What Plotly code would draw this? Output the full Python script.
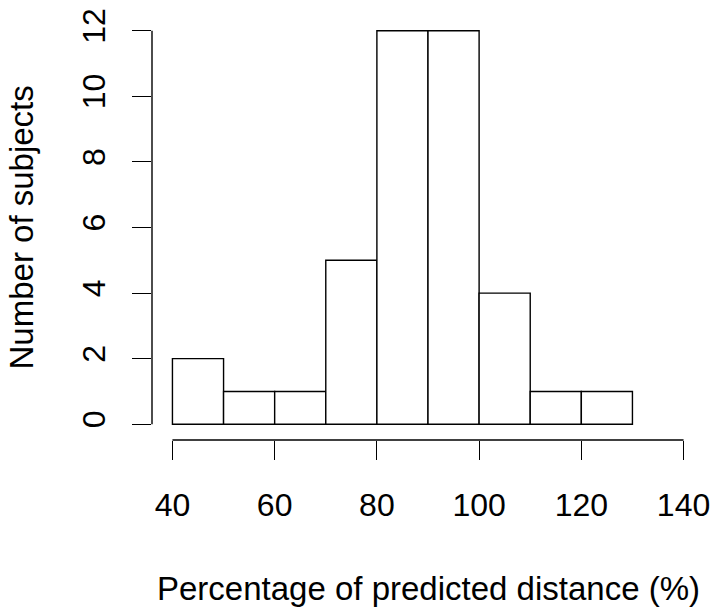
import plotly.graph_objects as go

# histogram bins (breaks) and counts
breaks = [40, 50, 60, 70, 80, 90, 100, 110, 120, 130]
counts = [2, 1, 1, 5, 12, 12, 4, 1, 1]
x_ticks = [40, 60, 80, 100, 120, 140]
y_ticks = [0, 2, 4, 6, 8, 10, 12]

mids = [(a + b) / 2 for a, b in zip(breaks[:-1], breaks[1:])]
widths = [b - a for a, b in zip(breaks[:-1], breaks[1:])]

font = "Liberation Sans, Arial, sans-serif"
lw = 1.4

fig = go.Figure(
    go.Bar(
        x=mids,
        y=counts,
        width=widths,
        marker=dict(color="white", line=dict(color="black", width=lw)),
    )
)

fig.update_layout(
    width=719,
    height=608,
    margin=dict(l=152, r=15, t=8, b=168),
    plot_bgcolor="white",
    paper_bgcolor="white",
    showlegend=False,
    font=dict(family=font, size=32, color="black"),
)

fig.update_xaxes(
    range=[36, 144],
    tickvals=x_ticks,
    ticks="outside",
    ticklen=19,
    tickwidth=lw,
    tickcolor="black",
    ticklabelstandoff=18,
    ticklabeloverflow="allow",
    showline=False,
    showgrid=False,
    zeroline=False,
)
fig.update_yaxes(
    range=[-0.48, 12.48],
    tickvals=y_ticks,
    tickangle=-90,
    ticks="outside",
    ticklen=19,
    tickwidth=lw,
    tickcolor="black",
    ticklabelstandoff=14,
    ticklabeloverflow="allow",
    showline=False,
    showgrid=False,
    zeroline=False,
)

# R-style axis lines spanning first to last tick
fig.add_shape(type="line", xref="x", yref="paper", x0=x_ticks[0], x1=x_ticks[-1],
              y0=0, y1=0, line=dict(color="black", width=lw))
fig.add_shape(type="line", xref="paper", yref="y", x0=0, x1=0,
              y0=y_ticks[0], y1=y_ticks[-1], line=dict(color="black", width=lw))

fig.add_annotation(text="Percentage of predicted distance (%)", xref="paper", yref="paper",
                   x=0.5, y=0, yshift=-148, showarrow=False, yanchor="middle",
                   font=dict(size=33))
fig.add_annotation(text="Number of subjects", xref="paper", yref="paper",
                   x=0, y=0.5, xshift=-131, textangle=-90, showarrow=False,
                   xanchor="center", borderpad=0, font=dict(size=33))

# drop the default body margin so the figure sits at the page corner
fig.write_html("out.html", config={"displayModeBar": False},
               post_script="document.body.style.margin='0';")
